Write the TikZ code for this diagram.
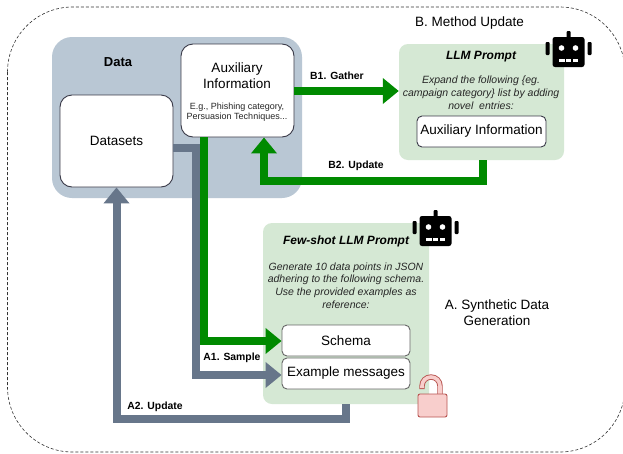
\documentclass[tikz,border=0pt]{standalone}
\usepackage{fontspec}
\setmainfont{Liberation Sans}
\usetikzlibrary{arrows.meta}
\definecolor{slateA}{HTML}{67768A}
\definecolor{greenA}{HTML}{008A00}
\definecolor{panelA}{HTML}{D5E8D4}
\definecolor{dataA}{HTML}{B9C7D4}
\definecolor{edgeA}{HTML}{3A3A48}
\definecolor{lockF}{HTML}{F8CECC}
\definecolor{lockE}{HTML}{B85450}
\tikzset{
  x=1pt,y=-1pt,
  box/.style={draw=edgeA,line width=0.9pt,fill=white,rounded corners=#1,inner sep=0pt,align=center,font=\fontsize{13.5}{15}\selectfont},
  box/.default=6pt,
  panel/.style={fill=panelA,rounded corners=9pt,inner sep=0pt},
  gflow/.style={draw=greenA,line width=8pt,-{Triangle[length=16pt,width=25pt]}},
  sflow/.style={draw=slateA,line width=8pt,-{Triangle[length=16pt,width=25pt]}},
  flowlabel/.style={font=\bfseries\fontsize{10.4}{12}\selectfont,inner sep=0pt},
  note/.style={font=\itshape\fontsize{10.5}{12.8}\selectfont,align=center,inner sep=0pt,text=black!85},
  ptitle/.style={font=\bfseries\itshape\fontsize{12}{14}\selectfont,inner sep=0pt},
  plain/.style={font=\fontsize{13.5}{16}\selectfont,align=center,inner sep=0pt},
  pics/robot/.style={code={
    \fill[black,rounded corners=2.5pt] (-16,-15) rectangle (16,15);
    \fill[black,rounded corners=1pt] (-23,-10) rectangle (-19,3);
    \fill[black,rounded corners=1pt] (19,-10) rectangle (23,3);
    \fill[black,rounded corners=1pt] (-2,-21) rectangle (2,-14);
    \fill[white] (-7,-4) circle (2.8);
    \fill[white] (7,-4) circle (2.8);
    \fill[white] (-9.5,7) rectangle (-4,9.5);
    \fill[white] (-2.5,7) rectangle (2.5,9.5);
    \fill[white] (4,7) rectangle (9.5,9.5);
  }}
}
\begin{document}
\begin{tikzpicture}
\useasboundingbox (0,0) rectangle (623,453);
\node[fill=white,inner sep=0pt,minimum width=623pt,minimum height=453pt] (page) at (311.5,226.5) {};
% outer dashed frame
\draw[densely dashed,line width=0.6pt,black!80,rounded corners=65pt] (7.5,7) rectangle (625,452);
% panels
\node[fill=dataA,rounded corners=20pt,minimum width=250pt,minimum height=161pt] (data) at (177,117.5) {};
\node[panel,minimum width=165pt,minimum height=116pt] (llm) at (481.5,102) {};
\node[panel,minimum width=166pt,minimum height=181pt] (few) at (346,313.5) {};
% boxes
\node[box=12pt,minimum width=113pt,minimum height=92pt] (datasets) at (116.5,141) {Datasets};
\node[box=12pt,minimum width=113pt,minimum height=93pt] (aux) at (237.5,90.5) {};
\node[box=5pt,minimum width=129pt,minimum height=31pt] (auxinfo) at (481.5,131.5) {Auxiliary Information};
\node[box=5pt,draw=black!60,minimum width=128pt,minimum height=31pt] (schema) at (346,340.5) {Schema};
\node[box=5pt,draw=black!60,minimum width=128pt,minimum height=31pt] (examples) at (346,373.5) {Example messages};
% routing levels
\coordinate (b1y) at (0,91);
\coordinate (a1gy) at (204,341);
\coordinate (a1sy) at (196,375);
\coordinate (sy) at (0,148);
\coordinate (a2y) at (0,419);
\coordinate (b2y) at (264,181);
\coordinate (b2x) at (483,0);
% slate flows
\draw[sflow] (datasets.east |- sy) -| (a1sy) -- (examples.west |- a1sy);
\draw[sflow] (few.south) |- (a2y -| datasets.south) -- (datasets.south);
% green flows
\draw[gflow] (aux.south -| a1gy) -- (a1gy) -- (schema.west |- a1gy);
\draw[gflow] (aux.east |- b1y) -- (llm.west |- b1y);
\draw[gflow] (llm.south -| b2x) |- (b2y) -- (aux.south -| b2y);
% texts
\node[font=\bfseries\fontsize{13}{15}\selectfont,inner sep=0pt] (datatitle) at (118,62.5) {Data};
\node[plain] (auxtitle) at (237,76) {Auxiliary\\Information};
\node[font=\fontsize{9}{10.2}\selectfont,align=center,inner sep=0pt,text=black!85] (auxnote) at (237,112) {E.g., Phishing category,\\Persuasion Techniques...};
\node[plain,anchor=center] (btitle) at (469.5,23.5) {B. Method Update};
\node[plain] (atitle) at (497,312.5) {A. Synthetic Data\\Generation};
\node[ptitle] (llmtitle) at (481,57) {LLM Prompt};
\node[note] (llmnote) at (481,93) {Expand the following \{eg.\\campaign category\} list by adding\\novel\ \ entries:};
\node[ptitle] (fewtitle) at (346,241) {Few-shot LLM Prompt};
\node[note] (fewnote) at (346,285.5) {Generate 10 data points in JSON\\adhering to the following schema.\\Use the provided examples as\\reference:};
\node[flowlabel] (b1) at (337,76) {B1. Gather};
\node[flowlabel] (b2) at (356,166) {B2. Update};
\node[flowlabel] (a1) at (232,358) {A1. Sample};
\node[flowlabel] (a2) at (155,407) {A2. Update};
% robots
\pic at (568.5,52) {robot};
\pic at (435.5,231) {robot};
% lock
\draw[lockE,line width=5.4pt] (422,389) -- (422,386) arc[start angle=180,end angle=360,radius=9] -- (440,395);
\draw[lockF,line width=3.6pt,shorten <=0.9pt] (422,389) -- (422,386) arc[start angle=180,end angle=360,radius=9] -- (440,395);
\draw[draw=lockE,fill=lockF,line width=0.9pt,rounded corners=2pt] (418,394) rectangle (447,417);
\end{tikzpicture}
\end{document}
